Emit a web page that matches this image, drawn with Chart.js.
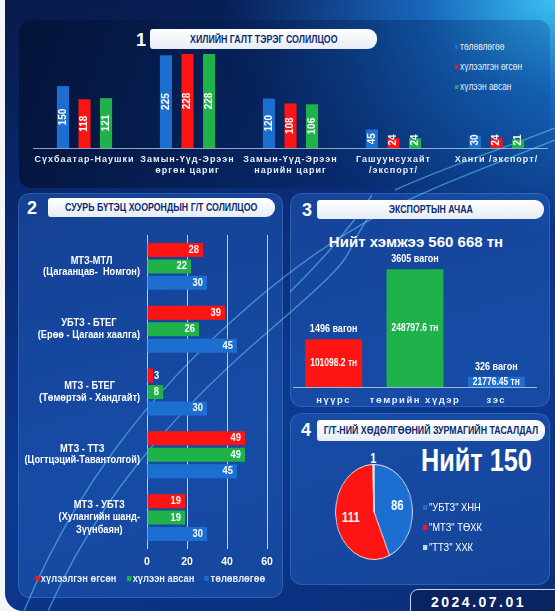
<!DOCTYPE html>
<html lang="mn">
<head>
<meta charset="UTF-8">
<script src="https://cdn.jsdelivr.net/npm/chart.js"></script>
<title>Төмөр замын мэдээ</title>
<style>
    * { margin: 0; padding: 0; box-sizing: border-box; }
    body { width: 555px; height: 611px; overflow: hidden; background: #f3f5f9;
        font-family: "Liberation Sans", Arial, sans-serif; position: relative; }
    #board { position: absolute; left: 5px; top: 0; width: 550px; height: 611px; border-radius: 0 0 0 18px;
        background:
            radial-gradient(ellipse 330px 230px at 100% 0%, rgba(60,200,250,0.95) 0%, rgba(30,130,225,0.7) 40%, rgba(20,80,180,0) 100%),
            linear-gradient(165deg, #071a4a 0%, #0a2c78 35%, #0c3a92 65%, #0a2e7a 100%); }
    .panel { position: absolute; border-radius: 12px; }
    #p1 { left: 19px; top: 20px; width: 531px; height: 168px;
        background: linear-gradient(90deg, rgba(3,16,48,0.72) 0%, rgba(6,40,100,0.55) 60%, rgba(10,80,150,0.35) 100%); }
    .pb { background: rgba(38,100,195,0.42); border: 1px solid rgba(120,170,240,0.25); }
    #deco { position: absolute; left: 0; top: 0; pointer-events: none; }
    .num { position: absolute; color: #fff; font: bold 18px "Liberation Sans", sans-serif;
        line-height: 20px; width: 14px; text-align: center; }
    .ttl { position: absolute; background: linear-gradient(180deg, #ffffff, #e6ecf6); border-radius: 3px 9px 9px 3px;
        color: #0d2a6e; font: bold 10px "Liberation Sans", sans-serif; white-space: nowrap;
        display: flex; align-items: center; justify-content: center; }
    .ttl span { display: inline-block; transform: scaleX(0.88); }
    .box { position: absolute; }
    .leg { position: absolute; color: #e8eef8; }
    .leg div { display: flex; align-items: center; white-space: nowrap; }
    .leg i { display: inline-block; margin-right: 2px; }
    .big { position: absolute; color: #fff; font-weight: bold; white-space: nowrap; }
    #date { position: absolute; left: 410px; top: 589px; width: 150px; height: 26px; background: #0a2462;
        border: 1.5px solid #c9d5ec; border-radius: 8px 0 0 0; color: #fff;
        font: bold 14px "Liberation Sans", Arial, sans-serif; letter-spacing: 2.5px; padding-left: 20px; line-height: 24px; }
</style>
</head>
<body>
<div id="board"></div>
<div class="panel" id="p1"></div>
<div class="panel pb" style="left:18px;top:193px;width:265px;height:405px"></div>
<div class="panel pb" style="left:290px;top:193px;width:260px;height:214px"></div>
<div class="panel pb" style="left:290px;top:413px;width:260px;height:172px"></div>

<svg id="deco" width="555" height="611">
    <g fill="none" stroke="rgba(110,215,255,0.5)" stroke-width="1.4">
        <path d="M 24 611 C 70 500, 140 400, 250 305 S 430 190, 555 140"/>
        <path d="M 48 611 C 95 505, 165 420, 270 330 S 330 270, 380 200"/>
        <path d="M 290 292 C 320 262, 345 235, 372 195"/>
        <path d="M 395 190 C 450 165, 500 150, 555 128"/>
    </g>
</svg>

<!-- 1 -->
<div class="num" style="left:134px;top:30px">1</div>
<div class="ttl" style="left:150px;top:29px;width:227px;height:20px"><span>ХИЛИЙН ГАЛТ ТЭРЭГ СОЛИЛЦОО</span></div>
<div class="leg" id="leg1" style="left:455px;top:37px;font-size:10px;line-height:20px;transform:scaleX(0.84);transform-origin:left"></div>
<div class="box" style="left:33px;top:49px;width:515px;height:136px"><canvas id="c1"></canvas></div>

<!-- 2 -->
<div class="num" style="left:25px;top:198px">2</div>
<div class="ttl" style="left:48px;top:198px;width:227px;height:19px"><span>СУУРЬ БҮТЭЦ ХООРОНДЫН Г/Т СОЛИЛЦОО</span></div>
<div class="box" style="left:18px;top:228px;width:264px;height:347px"><canvas id="c2"></canvas></div>
<div class="leg" id="leg2" style="left:18px;top:572px;width:264px;font-size:11px;font-weight:bold;display:flex;justify-content:center;gap:12px;transform:scaleX(0.85)"></div>

<!-- 3 -->
<div class="num" style="left:300px;top:200px">3</div>
<div class="ttl" style="left:317px;top:200px;width:227px;height:19px"><span>ЭКСПОРТЫН АЧАА</span></div>
<div class="big" style="left:290px;top:233px;width:260px;text-align:center;font-size:15px;padding-right:8px">Нийт хэмжээ 560 668 тн</div>
<div class="box" style="left:293px;top:245px;width:244px;height:165px"><canvas id="c3"></canvas></div>

<!-- 4 -->
<div class="num" style="left:299px;top:420px">4</div>
<div class="ttl" style="left:317px;top:420px;width:228px;height:21px"><span>Г/Т-НИЙ ХӨДӨЛГӨӨНИЙ ЗУРМАГИЙН ТАСАЛДАЛ</span></div>
<div class="big" style="left:421px;top:441px;font-size:32px;line-height:38px;transform:scaleX(0.79);transform-origin:left">Нийт 150</div>
<div class="box" style="left:303.5px;top:442px;width:140px;height:140px;transform:scaleX(0.81)"><canvas id="c4"></canvas></div>
<div class="leg" id="leg4" style="left:423px;top:497px;font-size:11px;line-height:20px;color:#fff;transform:scaleX(0.85);transform-origin:left"></div>

<div id="date">2024.07.01</div>

<script>
    const FONT = '"Liberation Sans", Arial, sans-serif';
    const BLUE = '#1c6fd1';
    const RED = '#ff1414';
    const GREEN = '#1fb14a';

    // 1. border train exchange
    const borderCats = [['Сүхбаатар-Наушки'], ['Замын-Үүд-Эрээн', 'өргөн цариг'], ['Замын-Үүд-Эрээн', 'нарийн цариг'], ['Гашуунсухайт', '/экспорт/'], ['Ханги /экспорт/']];
    const borderPlan = [150, 225, 120, 45, 30];
    const borderSent = [118, 228, 108, 24, 24];
    const borderRecv = [121, 228, 106, 24, 21];

    // 2. exchange between infrastructures
    const infraCats = [['МТЗ-МТЛ', '(Цагаанцав-  Номгон)'], ['УБТЗ - БТЕГ', '(Ерөө - Цагаан хаалга)'], ['МТЗ - БТЕГ', '(Төмөртэй - Хандгайт)'], ['МТЗ - ТТЗ', '(Цогтцэций-Тавантолгой)'], ['МТЗ - УБТЗ', '(Хулангийн шанд-', 'Зүүнбаян)']];
    const infraSent = [28, 39, 3, 49, 19];
    const infraRecv = [22, 26, 8, 49, 19];
    const infraPlan = [30, 45, 30, 45, 30];

    // 3. export cargo
    const cargoCats = ['нүүрс', 'төмрийн хүдэр', 'зэс'];
    const cargoTonnes = [101098.2, 248797.6, 21776.45];
    const cargoWagons = [1496, 3605, 326];

    // 4. schedule disruptions
    const breakCats = ['"УБТЗ" ХНН', '"МТЗ" ТӨХК', '"ТТЗ" ХХК'];
    const breakCounts = [86, 111, 1];

    const planLabel = 'төлөвлөгөө';
    const sentLabel = 'хүлээлгэн өгсөн';
    const recvLabel = 'хүлээн авсан';

    const makeLegend = (id, items, size) => {
        document.getElementById(id).innerHTML = items.map(([text, color]) =>
            `<div><i style="width:${size}px;height:${size}px;background:${color}"></i>${text}</div>`).join('');
    };

    // no narrow font installed, so squeeze the text instead
    const narrowText = (ctx, text, x, y, sx) => {
        ctx.save();
        ctx.translate(x, y);
        ctx.scale(sx, 1);
        ctx.fillText(text, 0, 0);
        ctx.restore();
    };

    // letter spacing for axis labels, switched off again before bars
    const spaced = px => ({
        id: 'spaced',
        beforeDraw(chart) { chart.ctx.letterSpacing = px; },
        beforeDatasetsDraw(chart) { chart.ctx.letterSpacing = '0px'; }
    });

    const rotatedValues = {
        id: 'rotatedValues',
        afterDatasetsDraw(chart) {
            const ctx = chart.ctx;
            ctx.save();
            ctx.font = 'bold 10px ' + FONT;
            ctx.fillStyle = '#fff';
            ctx.textAlign = 'center';
            ctx.textBaseline = 'middle';
            chart.data.datasets.forEach((ds, i) => {
                chart.getDatasetMeta(i).data.forEach((bar, j) => {
                    const p = bar.getProps(['x', 'y', 'base'], true);
                    const cy = Math.min((p.y + p.base) / 2, p.base - 8);
                    ctx.save();
                    ctx.translate(p.x, cy);
                    ctx.rotate(-Math.PI / 2);
                    ctx.fillText(ds.data[j], 0, 0);
                    ctx.restore();
                });
            });
            ctx.restore();
        }
    };

    const hValues = {
        id: 'hValues',
        afterDatasetsDraw(chart) {
            const ctx = chart.ctx;
            ctx.save();
            ctx.font = 'bold 11px ' + FONT;
            ctx.fillStyle = '#fff';
            ctx.textBaseline = 'middle';
            chart.data.datasets.forEach((ds, i) => {
                chart.getDatasetMeta(i).data.forEach((bar, j) => {
                    const p = bar.getProps(['x', 'y', 'base'], true);
                    if (p.x - p.base > 12) {
                        ctx.textAlign = 'right';
                        narrowText(ctx, ds.data[j], p.x - 4, p.y, 0.85);
                    } else {
                        ctx.textAlign = 'left';
                        narrowText(ctx, ds.data[j], p.x + 1, p.y, 0.85);
                    }
                });
            });
            ctx.restore();
        }
    };

    // two or three line labels, lines centred, block pushed against the bars
    const blockLabels = {
        id: 'blockLabels',
        afterDraw(chart) {
            const ctx = chart.ctx;
            const sc = chart.scales.y;
            const right = chart.chartArea.left - 7;
            const sx = 0.88;
            ctx.save();
            ctx.font = 'bold 10.5px ' + FONT;
            ctx.fillStyle = '#fff';
            ctx.textAlign = 'center';
            ctx.textBaseline = 'middle';
            chart.data.labels.forEach((lines, i) => {
                const w = Math.max(...lines.map(l => ctx.measureText(l).width)) * sx;
                const cx = right - w / 2;
                const cy = sc.getPixelForTick(i);
                const lh = lines.length > 2 ? 12.5 : 11.5;
                lines.forEach((l, k) => narrowText(ctx, l, cx, cy + (k - (lines.length - 1) / 2) * lh, sx));
            });
            ctx.restore();
        }
    };

    const cargoLabels = {
        id: 'cargoLabels',
        afterDatasetsDraw(chart) {
            const ctx = chart.ctx;
            ctx.save();
            ctx.font = 'bold 11px ' + FONT;
            ctx.fillStyle = '#fff';
            ctx.textAlign = 'center';
            ctx.textBaseline = 'middle';
            chart.getDatasetMeta(0).data.forEach((bar, j) => {
                const p = bar.getProps(['x', 'y', 'base'], true);
                narrowText(ctx, cargoWagons[j] + ' вагон', p.x, p.y - 10, 0.82);
                narrowText(ctx, cargoTonnes[j] + ' тн', p.x, Math.min((p.y + p.base) / 2, p.base - 5), 0.77);
            });
            ctx.restore();
        }
    };

    const pieLabels = {
        id: 'pieLabels',
        afterDatasetsDraw(chart) {
            const ctx = chart.ctx;
            const data = chart.data.datasets[0].data;
            const total = data.reduce((a, b) => a + b, 0);
            ctx.save();
            ctx.font = 'bold 14px ' + FONT;
            ctx.fillStyle = '#fff';
            ctx.textAlign = 'center';
            ctx.textBaseline = 'middle';
            chart.getDatasetMeta(0).data.forEach((arc, j) => {
                const p = arc.getProps(['x', 'y', 'startAngle', 'endAngle', 'outerRadius'], true);
                const mid = (p.startAngle + p.endAngle) / 2;
                const r = data[j] / total < 0.03 ? p.outerRadius + 5 : p.outerRadius * 0.62;
                ctx.fillText(data[j], p.x + Math.cos(mid) * r, p.y + Math.sin(mid) * r);
            });
            ctx.restore();
        }
    };

    // chart 1
    new Chart(document.getElementById('c1'), {
        type: 'bar',
        data: {
            labels: borderCats,
            datasets: [
                { label: planLabel, data: borderPlan, backgroundColor: BLUE },
                { label: sentLabel, data: borderSent, backgroundColor: RED },
                { label: recvLabel, data: borderRecv, backgroundColor: GREEN }
            ]
        },
        options: {
            animation: false,
            responsive: true,
            maintainAspectRatio: false,
            layout: { padding: 0 },
            datasets: { bar: { categoryPercentage: 0.628, barPercentage: 0.56 } },
            plugins: { legend: { display: false }, tooltip: { enabled: false } },
            scales: {
                y: { display: false, min: 0, max: 240 },
                x: {
                    grid: { display: false, drawTicks: false },
                    border: { display: true, color: 'rgba(190,210,235,0.75)' },
                    ticks: { color: '#e9eef7', font: { family: FONT, size: 9, weight: 'bold' }, padding: 6, maxRotation: 0, autoSkip: false },
                    afterFit(s) { s.height = 37; }
                }
            }
        },
        plugins: [spaced('1px'), rotatedValues]
    });
    makeLegend('leg1', [[planLabel, BLUE], [sentLabel, RED], [recvLabel, GREEN]], 4);

    // chart 2
    new Chart(document.getElementById('c2'), {
        type: 'bar',
        data: {
            labels: infraCats,
            datasets: [
                { label: sentLabel, data: infraSent, backgroundColor: RED },
                { label: recvLabel, data: infraRecv, backgroundColor: GREEN },
                { label: planLabel, data: infraPlan, backgroundColor: BLUE }
            ]
        },
        options: {
            indexAxis: 'y',
            animation: false,
            responsive: true,
            maintainAspectRatio: false,
            layout: { padding: { top: 7, right: 15, left: 0, bottom: 0 } },
            datasets: { bar: { categoryPercentage: 0.786, barPercentage: 0.85 } },
            plugins: { legend: { display: false }, tooltip: { enabled: false } },
            scales: {
                x: {
                    min: 0, max: 60,
                    ticks: { stepSize: 20, color: '#fff', font: { family: FONT, size: 10.5, weight: 'bold' }, padding: 7 },
                    grid: { color: 'rgba(235,242,252,0.8)', drawTicks: false },
                    border: { display: false },
                    afterFit(s) { s.height = 26; }
                },
                y: {
                    grid: { display: false, drawTicks: false },
                    border: { display: false },
                    ticks: { display: false },
                    afterFit(s) { s.width = 129; }
                }
            }
        },
        plugins: [hValues, blockLabels]
    });
    makeLegend('leg2', [[sentLabel, RED], [recvLabel, GREEN], [planLabel, BLUE]], 5);

    // chart 3
    new Chart(document.getElementById('c3'), {
        type: 'bar',
        data: {
            labels: cargoCats,
            datasets: [{ data: cargoTonnes, backgroundColor: [RED, GREEN, BLUE] }]
        },
        options: {
            animation: false,
            responsive: true,
            maintainAspectRatio: false,
            layout: { padding: 0 },
            datasets: { bar: { categoryPercentage: 1, barPercentage: 0.7 } },
            plugins: { legend: { display: false }, tooltip: { enabled: false } },
            scales: {
                y: { display: false, min: 0, max: 300000 },
                x: {
                    grid: { display: false, drawTicks: false },
                    border: { display: true, color: 'rgba(190,210,235,0.8)' },
                    ticks: { color: '#e9eef7', font: { family: FONT, size: 9.5, weight: 'bold' }, padding: 8 },
                    afterFit(s) { s.height = 23; }
                }
            }
        },
        plugins: [spaced('1.5px'), cargoLabels]
    });

    // chart 4
    new Chart(document.getElementById('c4'), {
        type: 'pie',
        data: {
            labels: breakCats,
            datasets: [{ data: breakCounts, backgroundColor: [BLUE, RED, '#c7d5ee'], borderColor: 'rgba(255,255,255,0.85)', borderWidth: 1 }]
        },
        options: {
            animation: false,
            responsive: true,
            maintainAspectRatio: false,
            radius: 47.5,
            layout: { padding: 0 },
            plugins: { legend: { display: false }, tooltip: { enabled: false } }
        },
        plugins: [pieLabels]
    });
    makeLegend('leg4', breakCats.map((c, i) => [c, [BLUE, RED, '#c7d5ee'][i]]), 5);
</script>
</body>
</html>
